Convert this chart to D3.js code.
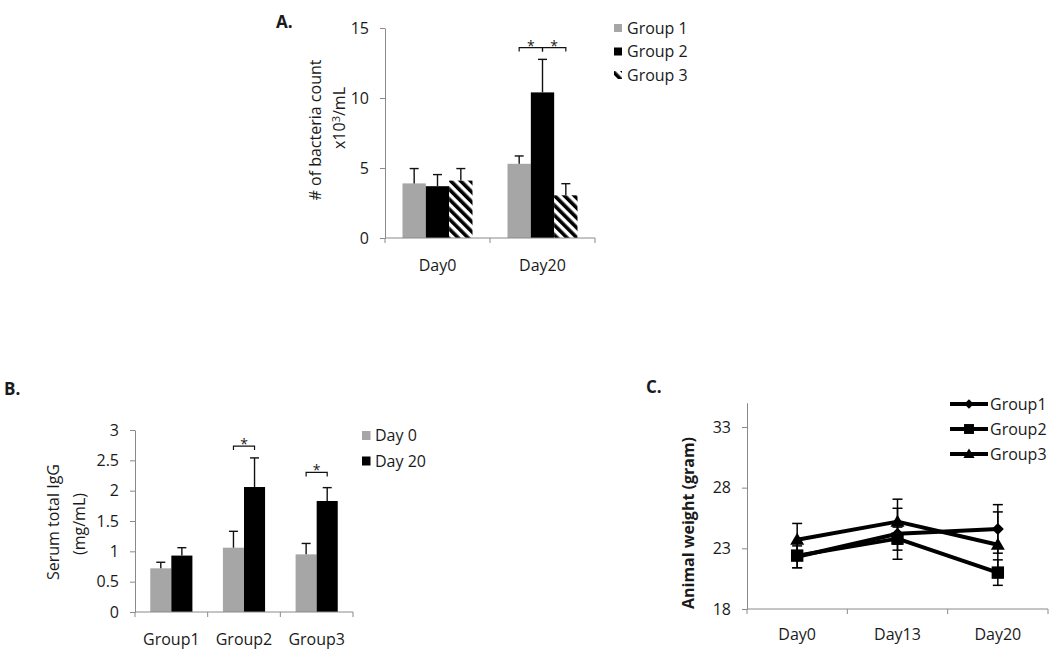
<!DOCTYPE html>
<html>
<head>
<meta charset="utf-8">
<script src="https://cdn.jsdelivr.net/npm/d3@7"></script>
<style>
  body { margin: 0; background: #fff; }
  text { font-family: "Open Sans", sans-serif; fill: #1a1a1a; }
</style>
</head>
<body>
<div id="chart"></div>
<script>
// ---- A: bacteria count ----
const daysA = ["Day0", "Day20"];
const groupsA = ["Group 1", "Group 2", "Group 3"];
const bacteriaG1 = [3.9, 5.3];
const bacteriaG2 = [3.7, 10.4];
const bacteriaG3 = [4.1, 3.05];
const bacteriaErrG1 = [1.06, 0.56];
const bacteriaErrG2 = [0.83, 2.36];
const bacteriaErrG3 = [0.86, 0.83];
const ticksA = [0, 5, 10, 15];

// ---- B: serum IgG ----
const groupsB = ["Group1", "Group2", "Group3"];
const daysB = ["Day 0", "Day 20"];
const igGDay0 = [0.72, 1.06, 0.95];
const igGDay20 = [0.93, 2.06, 1.83];
const igGErrDay0 = [0.10, 0.27, 0.18];
const igGErrDay20 = [0.13, 0.48, 0.22];
const ticksB = [0, 0.5, 1, 1.5, 2, 2.5, 3];

// ---- C: animal weight ----
const daysC = ["Day0", "Day13", "Day20"];
const groupsC = ["Group1", "Group2", "Group3"];
const weightG1 = [22.3, 24.2, 24.6];
const weightG2 = [22.4, 23.8, 21.0];
const weightG3 = [23.7, 25.2, 23.3];
const weightErrG1 = [0.9, 2.1, 2.0];
const weightErrG2 = [1.0, 0.95, 1.05];
const weightErrG3 = [1.35, 1.85, 2.7];
const ticksC = [18, 23, 28, 33];

const axisGray = "#8a8a8a";
const barGray = "#a6a6a6";
const fs = 16;

const svg = d3.select("#chart").append("svg")
  .attr("width", 1050)
  .attr("height", 653);

svg.append("defs").append("pattern")
    .attr("id", "stripes")
    .attr("patternUnits", "userSpaceOnUse")
    .attr("width", 7)
    .attr("height", 7)
    .attr("patternTransform", "rotate(-45)")
  .call(p => {
    p.append("rect").attr("width", 7).attr("height", 7).attr("fill", "#fff");
    p.append("rect").attr("width", 3.6).attr("height", 7).attr("fill", "#000");
  });

function yAxis(g, y, ticks, fmt) {
  g.call(d3.axisLeft(y).tickValues(ticks).tickSize(5).tickSizeOuter(0).tickPadding(11).tickFormat(fmt));
  g.select(".domain").attr("stroke", axisGray);
  g.selectAll(".tick line").attr("stroke", axisGray);
  g.selectAll(".tick text").attr("font-size", fs).attr("font-family", "Open Sans").attr("fill", "#1a1a1a");
}

function xAxis(g, x, y0, labelDy) {
  const [r0, r1] = x.range();
  g.append("line").attr("x1", r0).attr("x2", r1).attr("y1", y0).attr("y2", y0).attr("stroke", axisGray);
  const edges = x.domain().map(d => x(d)).concat([r1]);
  g.selectAll(".edge").data(edges).enter().append("line")
      .attr("x1", d => d).attr("x2", d => d)
      .attr("y1", y0).attr("y2", y0 + 5)
      .attr("stroke", axisGray);
  g.selectAll(".lbl").data(x.domain()).enter().append("text")
      .attr("x", d => x(d) + x.bandwidth() / 2)
      .attr("y", y0 + labelDy)
      .attr("text-anchor", "middle")
      .attr("font-size", fs)
      .text(d => d);
}

// ================= A =================
const gA = svg.append("g");
const xA = d3.scaleBand().domain(daysA).range([385, 595]);
const xAi = d3.scaleBand().domain(groupsA).range([xA.bandwidth() / 6, xA.bandwidth() * 5 / 6]);
const yA = d3.scaleLinear().domain([0, 15]).range([238, 28]);
const meansA = [bacteriaG1, bacteriaG2, bacteriaG3];
const errsA = [bacteriaErrG1, bacteriaErrG2, bacteriaErrG3];
const fillsA = [barGray, "#000", "url(#stripes)"];

const barsA = daysA.flatMap((d, i) => groupsA.map((g, j) =>
  ({ day: d, group: g, v: meansA[j][i], e: errsA[j][i], fill: fillsA[j] })));

gA.append("g").attr("transform", "translate(385,0)").call(g => yAxis(g, yA, ticksA, d3.format("d")));

gA.selectAll("rect.bar").data(barsA).enter().append("rect")
    .attr("class", "bar")
    .attr("x", d => xA(d.day) + xAi(d.group))
    .attr("y", d => yA(d.v))
    .attr("width", xAi.bandwidth())
    .attr("height", d => yA(0) - yA(d.v))
    .attr("fill", d => d.fill);

const errA = gA.selectAll("g.err").data(barsA).enter().append("g")
    .attr("stroke", "#111").attr("stroke-width", 1.4);
errA.append("line")
    .attr("x1", d => xA(d.day) + xAi(d.group) + xAi.bandwidth() / 2)
    .attr("x2", d => xA(d.day) + xAi(d.group) + xAi.bandwidth() / 2)
    .attr("y1", d => yA(d.v)).attr("y2", d => yA(d.v + d.e));
errA.append("line")
    .attr("x1", d => xA(d.day) + xAi(d.group) + xAi.bandwidth() / 2 - 4.5)
    .attr("x2", d => xA(d.day) + xAi(d.group) + xAi.bandwidth() / 2 + 4.5)
    .attr("y1", d => yA(d.v + d.e)).attr("y2", d => yA(d.v + d.e));

xAxis(gA, xA, 238, 33);

// significance brackets
const sigA = [
  { day: "Day20", from: "Group 1", to: "Group 2", level: 13.6 },
  { day: "Day20", from: "Group 2", to: "Group 3", level: 13.6 }
];
const cxA = (day, g) => xA(day) + xAi(g) + xAi.bandwidth() / 2;
gA.selectAll("path.sig").data(sigA).enter().append("path")
    .attr("fill", "none").attr("stroke", "#111").attr("stroke-width", 1.2)
    .attr("d", d => `M${cxA(d.day, d.from)},${yA(d.level) + 4}V${yA(d.level)}H${cxA(d.day, d.to)}V${yA(d.level) + 4}`);
gA.selectAll("text.star").data(sigA).enter().append("text")
    .attr("x", d => (cxA(d.day, d.from) + cxA(d.day, d.to)) / 2)
    .attr("y", d => yA(d.level) + 3)
    .attr("text-anchor", "middle").attr("font-size", 14)
    .text("*");

// y label
gA.append("text")
    .attr("transform", "translate(321,130) rotate(-90)")
    .attr("text-anchor", "middle").attr("font-size", fs)
    .text("# of bacteria count");
gA.append("text")
    .attr("transform", "translate(345,118) rotate(-90)")
    .attr("text-anchor", "middle").attr("font-size", fs)
    .call(t => {
      t.append("tspan").text("x10");
      t.append("tspan").attr("dy", -5).attr("font-size", 11).text("3");
      t.append("tspan").attr("dy", 5).text("/mL");
    });

// legend
const legA = gA.selectAll("g.leg").data(groupsA).enter().append("g")
    .attr("transform", (d, i) => `translate(614,${28 + i * 23.5})`);
legA.append("rect").attr("x", 0).attr("y", -4).attr("width", 8).attr("height", 8)
    .attr("fill", (d, i) => fillsA[i]);
legA.append("text").attr("x", 13).attr("y", 5.5).attr("font-size", fs).text(d => d);

gA.append("text").attr("x", 276).attr("y", 28).attr("font-size", 17).attr("font-weight", "bold").text("A.");

// ================= B =================
const gB = svg.append("g");
const xB = d3.scaleBand().domain(groupsB).range([135, 353]);
const xBi = d3.scaleBand().domain(daysB).range([xB.bandwidth() * 0.21, xB.bandwidth() * 0.79]);
const yB = d3.scaleLinear().domain([0, 3]).range([612, 430]);
const meansB = [igGDay0, igGDay20];
const errsB = [igGErrDay0, igGErrDay20];
const fillsB = [barGray, "#000"];

const barsB = groupsB.flatMap((g, i) => daysB.map((d, j) =>
  ({ group: g, day: d, v: meansB[j][i], e: errsB[j][i], fill: fillsB[j] })));

gB.append("g").attr("transform", "translate(135,0)").call(g => yAxis(g, yB, ticksB, d3.format("~g")));

gB.selectAll("rect.bar").data(barsB).enter().append("rect")
    .attr("x", d => xB(d.group) + xBi(d.day))
    .attr("y", d => yB(d.v))
    .attr("width", xBi.bandwidth())
    .attr("height", d => yB(0) - yB(d.v))
    .attr("fill", d => d.fill);

const cxB = (g, d) => xB(g) + xBi(d) + xBi.bandwidth() / 2;
const errB = gB.selectAll("g.err").data(barsB).enter().append("g")
    .attr("stroke", "#111").attr("stroke-width", 1.4);
errB.append("line")
    .attr("x1", d => cxB(d.group, d.day)).attr("x2", d => cxB(d.group, d.day))
    .attr("y1", d => yB(d.v)).attr("y2", d => yB(d.v + d.e));
errB.append("line")
    .attr("x1", d => cxB(d.group, d.day) - 4.5).attr("x2", d => cxB(d.group, d.day) + 4.5)
    .attr("y1", d => yB(d.v + d.e)).attr("y2", d => yB(d.v + d.e));

xAxis(gB, xB, 612, 33);

const sigB = [
  { group: "Group2", level: 2.735 },
  { group: "Group3", level: 2.30 }
];
gB.selectAll("path.sig").data(sigB).enter().append("path")
    .attr("fill", "none").attr("stroke", "#111").attr("stroke-width", 1.2)
    .attr("d", d => `M${cxB(d.group, "Day 0")},${yB(d.level) + 4}V${yB(d.level)}H${cxB(d.group, "Day 20")}V${yB(d.level) + 4}`);
gB.selectAll("text.star").data(sigB).enter().append("text")
    .attr("x", d => (cxB(d.group, "Day 0") + cxB(d.group, "Day 20")) / 2)
    .attr("y", d => yB(d.level) + 3)
    .attr("text-anchor", "middle").attr("font-size", 14)
    .text("*");

gB.append("text")
    .attr("transform", "translate(59,522) rotate(-90)")
    .attr("text-anchor", "middle").attr("font-size", 16)
    .text("Serum total IgG");
gB.append("text")
    .attr("transform", "translate(85,524) rotate(-90)")
    .attr("text-anchor", "middle").attr("font-size", 16)
    .text("(mg/mL)");

const legB = gB.selectAll("g.leg").data(daysB).enter().append("g")
    .attr("transform", (d, i) => `translate(362,${435.5 + i * 25.5})`);
legB.append("rect").attr("x", 0).attr("y", -4.5).attr("width", 8.5).attr("height", 9)
    .attr("fill", (d, i) => fillsB[i]);
legB.append("text").attr("x", 13).attr("y", 5.5).attr("font-size", fs).text(d => d);

gB.append("text").attr("x", 4).attr("y", 395).attr("font-size", 17).attr("font-weight", "bold").text("B.");

// ================= C =================
const gC = svg.append("g");
const xC = d3.scaleBand().domain(daysC).range([747, 1048]);
const yC = d3.scaleLinear().domain([18, 35]).range([609, 402.7]);
const meansC = [weightG1, weightG2, weightG3];
const errsC = [weightErrG1, weightErrG2, weightErrG3];
const cxC = d => xC(d) + xC.bandwidth() / 2;

const marker = [
  s => `M0,${-6 * s}L${6 * s},0L0,${6 * s}L${-6 * s},0Z`,
  s => `M${-6.2 * s},${-6.2 * s}H${6.2 * s}V${6.2 * s}H${-6.2 * s}Z`,
  s => `M0,${-7 * s}L${7 * s},${5 * s}H${-7 * s}Z`
];

gC.append("g").attr("transform", "translate(747,0)").call(g => yAxis(g, yC, ticksC, d3.format("d")));
xAxis(gC, xC, 609, 31);

const line = d3.line().x((v, i) => cxC(daysC[i])).y(v => yC(v));

groupsC.forEach((g, j) => {
  const pts = daysC.map((d, i) => ({ day: d, v: meansC[j][i], e: errsC[j][i] }));
  const eg = gC.append("g").attr("stroke", "#000").attr("stroke-width", 1.5);
  eg.selectAll("line.v").data(pts).enter().append("line")
      .attr("x1", d => cxC(d.day)).attr("x2", d => cxC(d.day))
      .attr("y1", d => yC(d.v - d.e)).attr("y2", d => yC(d.v + d.e));
  [1, -1].forEach(sgn => {
    eg.selectAll("line.c" + sgn).data(pts).enter().append("line")
        .attr("x1", d => cxC(d.day) - 5).attr("x2", d => cxC(d.day) + 5)
        .attr("y1", d => yC(d.v + sgn * d.e)).attr("y2", d => yC(d.v + sgn * d.e));
  });
});

// draw in reverse so group1 sits on top like the reference
[2, 1, 0].forEach(j => {
  gC.append("path")
      .datum(meansC[j])
      .attr("fill", "none").attr("stroke", "#000").attr("stroke-width", 4)
      .attr("stroke-linejoin", "round")
      .attr("d", line);
  gC.selectAll(null).data(meansC[j]).enter().append("path")
      .attr("transform", (v, i) => `translate(${cxC(daysC[i])},${yC(v)})`)
      .attr("d", marker[j](1))
      .attr("fill", "#000");
});

gC.append("text")
    .attr("transform", "translate(694,523) rotate(-90)")
    .attr("text-anchor", "middle").attr("font-size", 16).attr("font-weight", "bold")
    .text("Animal weight (gram)");

const legC = gC.selectAll("g.leg").data(groupsC).enter().append("g")
    .attr("transform", (d, i) => `translate(950,${404 + i * 25})`);
legC.append("line").attr("x1", 0).attr("x2", 38).attr("stroke", "#000").attr("stroke-width", 4);
legC.append("path").attr("transform", "translate(19,0)")
    .attr("d", (d, i) => marker[i](0.8)).attr("fill", "#000");
legC.append("text").attr("x", 40).attr("y", 5.5).attr("font-size", fs).text(d => d);

gC.append("text").attr("x", 646).attr("y", 393).attr("font-size", 17).attr("font-weight", "bold").text("C.");
</script>
</body>
</html>
